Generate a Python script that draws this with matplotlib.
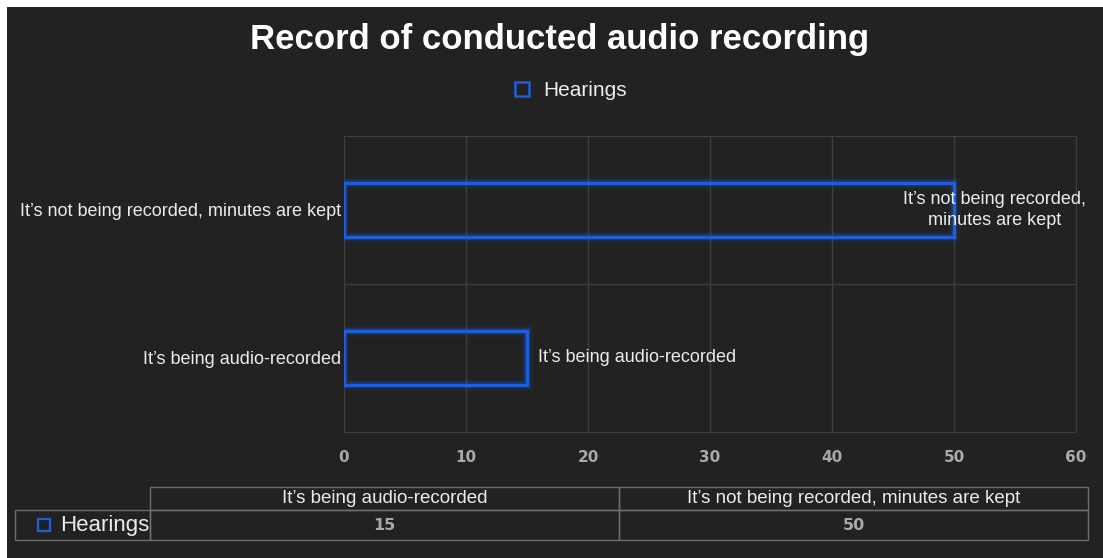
import matplotlib
matplotlib.use("Agg")
import matplotlib.pyplot as plt
from matplotlib.patches import Rectangle
from matplotlib.table import Table

# Chart data
categories = ["It\u2019s being audio-recorded", "It\u2019s not being recorded, minutes are kept"]
bar_labels = ["It\u2019s being audio-recorded", "It\u2019s not being recorded,\nminutes are kept"]
hearings = [15, 50]
series_name = "Hearings"
x_ticks = [0, 10, 20, 30, 40, 50, 60]
title = "Record of conducted audio recording"

BG = "#222222"
BLUE = "#1f5fdc"
GRID = "#3e3e3e"
TEXT = "#ececec"
TICK = "#a9a9a9"
plt.rcParams['font.family'] = ['Liberation Sans', 'DejaVu Sans']

W, H = 1103, 558
fig = plt.figure(figsize=(W / 100, H / 100), dpi=100, facecolor=BG)

# white strips along the top and left edges
fig.patches.append(Rectangle((0, 1 - 7 / H), 1, 7 / H, transform=fig.transFigure,
                             facecolor="white", edgecolor="none", zorder=10))
fig.patches.append(Rectangle((0, 0), 7 / W, 1, transform=fig.transFigure,
                             facecolor="white", edgecolor="none", zorder=10))

ax = fig.add_axes([344 / W, 1 - 432 / H, (1076 - 344) / W, (432 - 136) / H])
ax.set_facecolor(BG)

y = list(range(len(categories)))
bar_h = 0.365

# soft glow behind the bar outlines
for lw, a in [(9, 0.06), (6, 0.12), (4, 0.25)]:
    ax.barh(y, hearings, height=bar_h, facecolor="none", edgecolor=BLUE,
            linewidth=lw, alpha=a, zorder=3)
ax.barh(y, hearings, height=bar_h, facecolor="none", edgecolor=BLUE,
        linewidth=2.2, zorder=4)

ax.set_xlim(x_ticks[0], x_ticks[-1])
ax.set_ylim(-0.5, len(categories) - 0.5)
ax.set_xticks(x_ticks)
ax.set_xticklabels([str(t) for t in x_ticks], fontsize=11, fontweight="bold",
                   color=TICK, family="DejaVu Sans")
ax.set_yticks(y)
ax.set_yticklabels(categories, fontsize=13, color=TEXT)
ax.tick_params(axis="x", length=0, pad=13)
ax.tick_params(axis="y", length=0, pad=2)

ax.grid(axis="x", color=GRID, linewidth=1)
for i in range(len(categories) - 1):
    ax.axhline(i + 0.5, color=GRID, linewidth=1)
ax.set_axisbelow(True)
for side in ["top", "right", "bottom"]:
    ax.spines[side].set_color(GRID)
ax.spines["left"].set_visible(False)

# value labels at the bar ends
label_offsets = [(8, "left"), (29, "center")]
for yi, v, lab, (dx, ha) in zip(y, hearings, bar_labels, label_offsets):
    ax.annotate(lab, xy=(v, yi), xytext=(dx, 0), textcoords="offset points",
                ha=ha, va="center", fontsize=13, color=TEXT, zorder=5,
                linespacing=1.3)

fig.text(560 / W, 1 - 40 / H, title, ha="center", va="center",
         fontsize=25, fontweight="bold", color="white")

handle = Rectangle((0, 0), 1, 1, facecolor="none", edgecolor=BLUE, linewidth=1.8)
fig.legend([handle], [series_name], loc="center", bbox_to_anchor=(571 / W, 1 - 91 / H),
           frameon=False, fontsize=15, labelcolor=TEXT, handlelength=0.65,
           handleheight=0.65, handletextpad=0.7)

# data table under the axis; the bbox covers the value columns only
tax = fig.add_axes([150 / W, 1 - 540 / H, (1088 - 150) / W, (540 - 487) / H])
tax.set_axis_off()
tbl = Table(tax, bbox=[0, 0, 1, 1])
row_w = (150 - 15) / (1088 - 150)
col_w = 1 / len(categories)
head_h, body_h = 23 / 53, 30 / 53
for j, cat in enumerate(categories):
    c = tbl.add_cell(0, j, col_w, head_h, text=cat, loc="center",
                     facecolor="none", edgecolor="#6e6e6e")
    c.get_text().set_color(TEXT)
    c.get_text().set_fontsize(13.5)
    c = tbl.add_cell(1, j, col_w, body_h, text=str(hearings[j]), loc="center",
                     facecolor="none", edgecolor="#6e6e6e")
    c.get_text().set_color(TICK)
    c.get_text().set_fontsize(11.5)
    c.get_text().set_fontweight("bold")
    c.get_text().set_family("DejaVu Sans")
c = tbl.add_cell(1, -1, row_w, body_h, text=series_name, loc="right",
                 facecolor="none", edgecolor="#6e6e6e")
c.PAD = 0.003
c.get_text().set_color(TEXT)
c.get_text().set_fontsize(16)
tbl.auto_set_font_size(False)
tax.add_table(tbl)
tax.plot([(44 - 150) / (1088 - 150)], [0.5 * body_h], marker="s", markersize=8,
         markerfacecolor="none", markeredgecolor=BLUE, markeredgewidth=1.6,
         transform=tax.transAxes, clip_on=False)

fig.savefig("out.png", dpi=100, facecolor=BG)
